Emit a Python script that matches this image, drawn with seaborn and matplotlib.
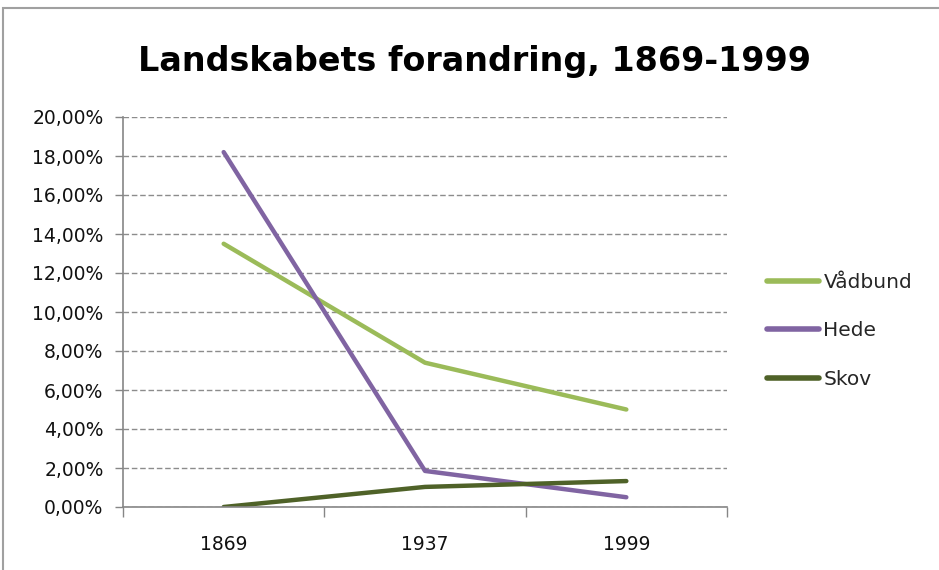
import matplotlib
matplotlib.use("Agg")
import matplotlib.pyplot as plt
import seaborn as sns
import pandas as pd
from matplotlib.patches import Rectangle
from matplotlib.ticker import FixedLocator, FuncFormatter

years = ["1869", "1937", "1999"]
series_names = ["Vådbund", "Hede", "Skov"]
vaadbund = [13.5, 7.4, 5.0]
hede = [18.2, 1.85, 0.5]
skov = [0.0, 1.03, 1.33]
colors = ["#9BBB59", "#8064A2", "#4F6228"]
title = "Landskabets forandring, 1869-1999"

rows = []
for name, vals in zip(series_names, [vaadbund, hede, skov]):
    for y, v in zip(years, vals):
        rows.append({"År": y, "Andel": v, "Serie": name})
df = pd.DataFrame(rows)

sns.set_theme(style="white")
plt.rcParams['font.family'] = ['DejaVu Sans']

fig = plt.figure(figsize=(9.39, 5.70), dpi=100)
ax = fig.add_axes([123/939, 1-507/570, (727-123)/939, (507-117)/570])

sns.lineplot(data=df, x="År", y="Andel", hue="Serie", hue_order=series_names,
             palette=colors, linewidth=3.2, ax=ax, sort=False)

ax.set_xlim(-0.5, 2.5)
ax.set_ylim(0, 20)
ax.set_yticks(range(0, 21, 2))
ax.yaxis.set_major_formatter(FuncFormatter(lambda v, p: f"{v:.2f}".replace(".", ",") + "%"))
ax.set_xticks([0, 1, 2])
ax.set_xticklabels(years)
ax.xaxis.set_minor_locator(FixedLocator([-0.5, 0.5, 1.5, 2.5]))
ax.tick_params(axis="x", which="major", length=0, pad=20, labelsize=13.5, labelcolor="#111111")
ax.tick_params(axis="x", which="minor", length=7, width=1, color="#868686", direction="out", bottom=True)
ax.tick_params(axis="y", which="major", length=6, width=1, color="#868686", direction="out", left=True,
               labelsize=13.5, labelcolor="#111111", pad=8)
ax.set_xlabel("")
ax.set_ylabel("")

ax.yaxis.grid(True, linestyle=(0, (4, 2)), color="#8C8C8C", linewidth=1)
ax.set_axisbelow(True)
for s in ["top", "right"]:
    ax.spines[s].set_visible(False)
for s in ["left", "bottom"]:
    ax.spines[s].set_color("#868686")
    ax.spines[s].set_linewidth(1.2)

leg = ax.legend(loc="center left", bbox_to_anchor=(757/939, 1-331/570), bbox_transform=fig.transFigure,
                frameon=False, fontsize=14.5, handlelength=2.6, handletextpad=0.2,
                labelspacing=1.45, borderpad=0)
for line in leg.get_lines():
    line.set_linewidth(4)

fig.text(475/939, 1-62/570, title, ha="center", va="center", fontsize=24, fontweight="bold", color="black")

fig.patches.append(Rectangle((3/939, -0.1), 1.2, 0.1 + 1-8/570, transform=fig.transFigure,
                             fill=False, edgecolor="#A0A0A0", linewidth=1.5, clip_on=False))

fig.savefig("out.png", dpi=100)
